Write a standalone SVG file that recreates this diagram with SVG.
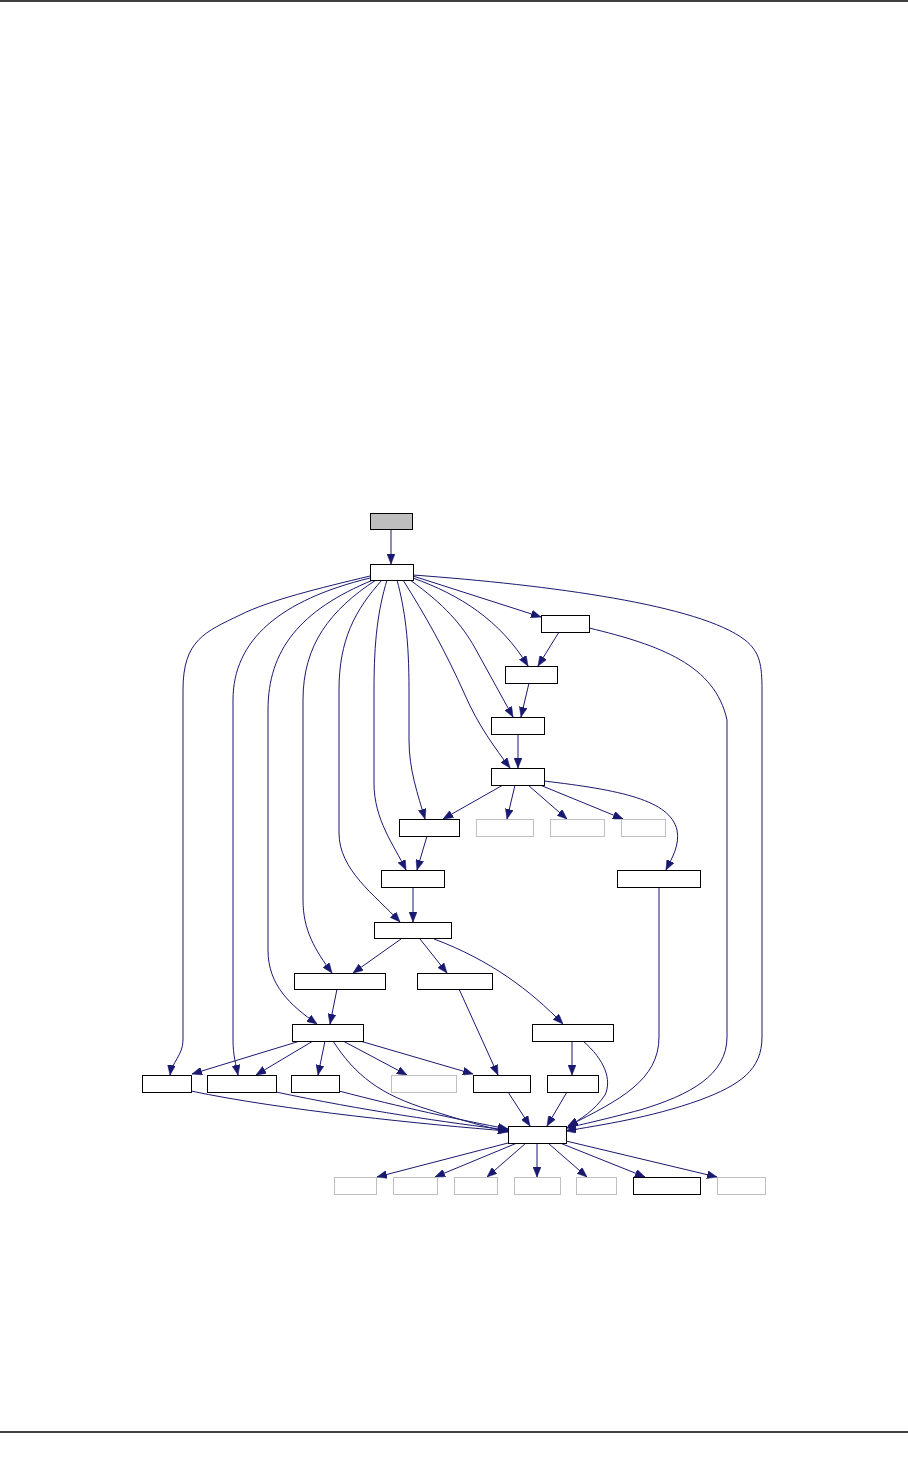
<svg xmlns="http://www.w3.org/2000/svg" width="908" height="1463" viewBox="0 0 908 1463">
<style>
.n rect{fill:#ffffff;stroke:#000000;stroke-width:1}
.g rect{fill:#ffffff;stroke:#bfbfbf;stroke-width:1}
.root rect{fill:#bfbfbf;stroke:#000000;stroke-width:1}
.e path{fill:none;stroke:#191970;stroke-width:1;marker-end:url(#ah)}
.rule{stroke:#000000;stroke-width:1.3}
</style>
<defs>
<marker id="ah" markerUnits="userSpaceOnUse" markerWidth="10" markerHeight="8" refX="10" refY="4" orient="auto">
<path d="M0,0 L10,4 L0,8 z" fill="#191970" stroke="#191970" stroke-width="0.5"/>
</marker>
</defs>
<rect width="908" height="1463" fill="#ffffff"/>
<line class="rule" x1="0" y1="1" x2="908" y2="1"/>
<line class="rule" x1="0" y1="1432" x2="908" y2="1432"/>
<g id="edges" class="e">
<path d="M391,529 L391,564"/>
<path d="M413,576 L541,617"/>
<path d="M413,578 C460,595 500,620 528,666"/>
<path d="M410,580 C445,605 462,625 475,648 L513,717"/>
<path d="M403,580 C425,615 445,650 465,695 C478,725 495,748 510,768"/>
<path d="M397,580 C405,610 409,640 409,690 L409,740 C409,770 418,795 425,819"/>
<path d="M387,580 C378,610 374,640 374,690 L374,783 C374,820 394,845 406,870"/>
<path d="M382,580 C355,610 339,640 339,690 L339,833 C339,870 375,895 400,922"/>
<path d="M376,580 C330,610 303,645 303,700 L303,900 C303,930 315,950 332,973"/>
<path d="M373,580 C300,610 268,650 268,710 L268,950 C268,985 290,1005 317,1024"/>
<path d="M370,578 C280,600 233,640 233,700 L233,1040 C233,1055 236,1065 238,1075"/>
<path d="M370,576 C320,588 270,600 240,615 C205,632 183,640 183,690 L183,1040 C183,1055 172,1062 170,1075"/>
<path d="M413,575 C550,585 700,605 745,640 C760,652 762,665 762,690 L762,1037 C762,1070 740,1085 700,1100 C650,1118 600,1125 566,1131"/>
<path d="M589,628 C660,645 715,665 727,720 L727,1037 C727,1075 690,1095 640,1110 C610,1118 580,1125 566,1128"/>
<path d="M559,632 L538,666"/>
<path d="M529,683 L521,717"/>
<path d="M518,734 L518,768"/>
<path d="M503,785 L443,819"/>
<path d="M515,785 L507,819"/>
<path d="M528,785 L567,819"/>
<path d="M540,785 L623,819"/>
<path d="M544,781 C620,790 670,800 677,830 C680,845 672,858 666,870"/>
<path d="M427,836 L417,870"/>
<path d="M413,887 L413,922"/>
<path d="M401,939 L353,973"/>
<path d="M420,939 L447,973"/>
<path d="M434,939 C490,960 530,990 563,1024"/>
<path d="M337,989 L330,1024"/>
<path d="M459,989 L498,1075"/>
<path d="M300,1041 L192,1074"/>
<path d="M313,1041 L256,1075"/>
<path d="M325,1041 L318,1075"/>
<path d="M343,1041 L407,1075"/>
<path d="M360,1041 L473,1074"/>
<path d="M333,1041 C355,1075 380,1095 430,1110 C460,1120 490,1128 508,1132"/>
<path d="M572,1041 L572,1075"/>
<path d="M583,1041 C605,1060 612,1080 605,1095 C595,1110 580,1120 568,1126"/>
<path d="M567,1092 L547,1126"/>
<path d="M508,1092 L530,1126"/>
<path d="M191,1091 C280,1110 430,1125 508,1131"/>
<path d="M276,1092 C360,1110 450,1123 508,1130"/>
<path d="M339,1091 C400,1107 460,1120 508,1129"/>
<path d="M659,887 L659,1037 C659,1080 620,1100 568,1126"/>
<path d="M508,1143 L377,1177"/>
<path d="M517,1143 L435,1177"/>
<path d="M526,1143 L487,1177"/>
<path d="M537,1143 L537,1177"/>
<path d="M548,1143 L587,1177"/>
<path d="M560,1143 L645,1177"/>
<path d="M566,1141 L717,1177"/>
</g>
<g id="n0" class="root"><rect x="370.5" y="513.5" width="42" height="16"/></g>
<g id="n1" class="n"><rect x="370.5" y="564.5" width="43" height="16"/></g>
<g id="nA" class="n"><rect x="541.5" y="615.5" width="48" height="17"/></g>
<g id="nB" class="n"><rect x="505.5" y="666.5" width="52" height="17"/></g>
<g id="nC" class="n"><rect x="491.5" y="717.5" width="53" height="17"/></g>
<g id="nD" class="n"><rect x="491.5" y="768.5" width="53" height="17"/></g>
<g id="nE" class="n"><rect x="399.5" y="819.5" width="60" height="17"/></g>
<g id="nF" class="g"><rect x="476.5" y="819.5" width="57" height="17"/></g>
<g id="nG" class="g"><rect x="550.5" y="819.5" width="54" height="17"/></g>
<g id="nH" class="g"><rect x="621.5" y="819.5" width="44" height="17"/></g>
<g id="nI" class="n"><rect x="381.5" y="870.5" width="63" height="17"/></g>
<g id="nJ" class="n"><rect x="617.5" y="870.5" width="83" height="17"/></g>
<g id="nK" class="n"><rect x="374.5" y="922.5" width="77" height="16"/></g>
<g id="nL" class="n"><rect x="294.5" y="973.5" width="91" height="16"/></g>
<g id="nM" class="n"><rect x="417.5" y="973.5" width="75" height="16"/></g>
<g id="nN" class="n"><rect x="292.5" y="1024.5" width="71" height="17"/></g>
<g id="nO" class="n"><rect x="532.5" y="1024.5" width="81" height="17"/></g>
<g id="nP" class="n"><rect x="142.5" y="1075.5" width="49" height="17"/></g>
<g id="nQ" class="n"><rect x="207.5" y="1075.5" width="69" height="17"/></g>
<g id="nR" class="n"><rect x="291.5" y="1075.5" width="48" height="17"/></g>
<g id="nS" class="g"><rect x="391.5" y="1075.5" width="65" height="17"/></g>
<g id="nT" class="n"><rect x="473.5" y="1075.5" width="57" height="17"/></g>
<g id="nU" class="n"><rect x="547.5" y="1075.5" width="51" height="17"/></g>
<g id="nV" class="n"><rect x="508.5" y="1126.5" width="58" height="17"/></g>
<g id="nW1" class="g"><rect x="334.5" y="1177.5" width="42" height="17"/></g>
<g id="nW2" class="g"><rect x="393.5" y="1177.5" width="44" height="17"/></g>
<g id="nW3" class="g"><rect x="454.5" y="1177.5" width="43" height="17"/></g>
<g id="nW4" class="g"><rect x="514.5" y="1177.5" width="46" height="17"/></g>
<g id="nW5" class="g"><rect x="576.5" y="1177.5" width="40" height="17"/></g>
<g id="nW6" class="n"><rect x="633.5" y="1177.5" width="67" height="17"/></g>
<g id="nW7" class="g"><rect x="717.5" y="1177.5" width="48" height="17"/></g>
</svg>
